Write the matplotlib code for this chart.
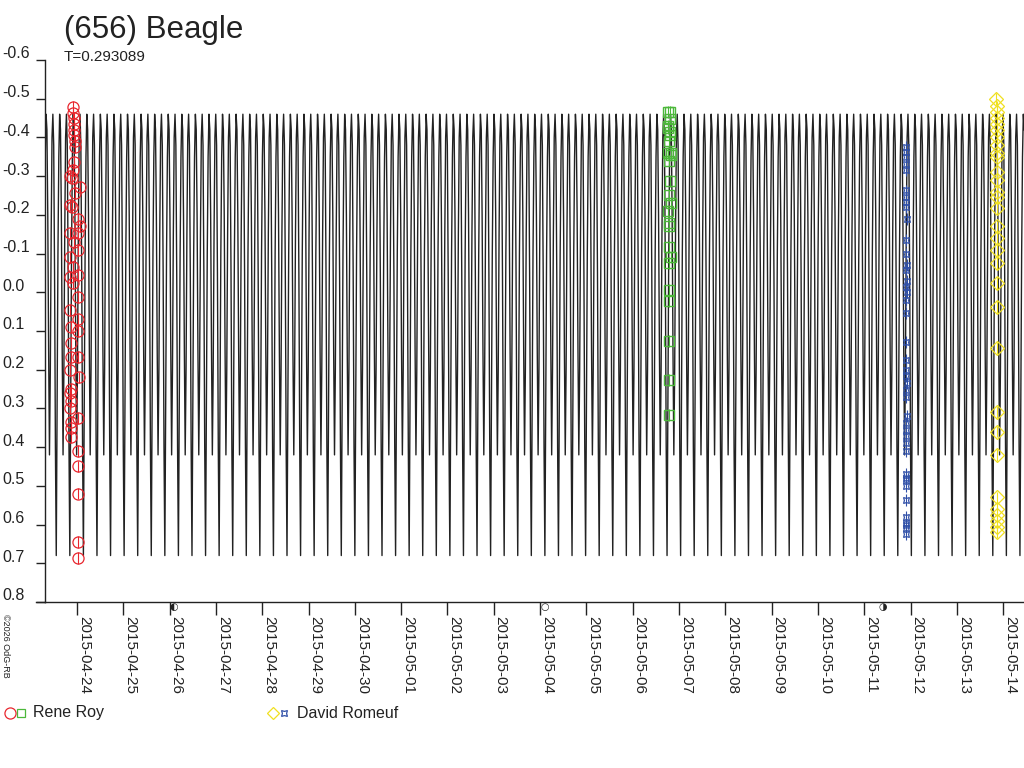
import numpy as np
import matplotlib
matplotlib.use('Agg')
from matplotlib import pyplot as plt
from matplotlib.lines import Line2D
from matplotlib.transforms import blended_transform_factory

plt.rcParams['font.family'] = ['Liberation Sans', 'DejaVu Sans']

# x values are days counted from 2015-04-24 00:00
day_labels = ['2015-04-24', '2015-04-25', '2015-04-26', '2015-04-27', '2015-04-28',
              '2015-04-29', '2015-04-30', '2015-05-01', '2015-05-02', '2015-05-03',
              '2015-05-04', '2015-05-05', '2015-05-06', '2015-05-07', '2015-05-08',
              '2015-05-09', '2015-05-10', '2015-05-11', '2015-05-12', '2015-05-13',
              '2015-05-14']
y_ticks = [-0.6, -0.5, -0.4, -0.3, -0.2, -0.1, 0.0, 0.1, 0.2, 0.3, 0.4, 0.5, 0.6, 0.7, 0.8]

period = 0.293089
# one rotation of the model lightcurve (equally spaced in phase)
model_mag = [0.68, 0.30, -0.10, -0.35, -0.46, -0.42, -0.20, 0.15,
             0.42, 0.20, -0.15, -0.40, -0.46, -0.38, -0.05, 0.40]
model_start = -0.74
n_rot = 74

# Rene Roy, 2015-04-24
roy1_t = [-0.086, -0.086, -0.065, -0.065, -0.060, -0.055, -0.050, -0.045, -0.065,
          -0.086, -0.108, -0.151, 0.065, -0.043, -0.151, -0.108, 0.022, 0.065,
          -0.151, 0.022, -0.065, 0.022, -0.151, -0.086, 0.022, -0.151, -0.086,
          0.022, -0.151, 0.022, -0.130, 0.022, -0.130, 0.022, -0.130, 0.043,
          -0.151, -0.130, -0.140, -0.130, -0.151, 0.022, -0.130, -0.130, -0.130,
          0.022, 0.022, 0.022, 0.022, 0.022]
roy1_m = [-0.479, -0.463, -0.450, -0.435, -0.420, -0.405, -0.390, -0.375, -0.337,
          -0.316, -0.295, -0.300, -0.273, -0.256, -0.225, -0.220, -0.190, -0.170,
          -0.153, -0.153, -0.130, -0.110, -0.090, -0.065, -0.044, -0.040, -0.024,
          0.012, 0.046, 0.070, 0.090, 0.100, 0.130, 0.167, 0.167, 0.220,
          0.200, 0.250, 0.260, 0.280, 0.300, 0.325, 0.335, 0.350, 0.374,
          0.410, 0.450, 0.520, 0.645, 0.686]

# Rene Roy, 2015-05-07
roy2_t = [12.76, 12.81, 12.81, 12.77, 12.77, 12.81, 12.81, 12.78, 12.77, 12.82,
          12.83, 12.78, 12.81, 12.79, 12.83, 12.77, 12.78, 12.79, 12.78, 12.83,
          12.78, 12.78, 12.78, 12.79, 12.79, 12.79]
roy2_m = [-0.466, -0.466, -0.447, -0.430, -0.425, -0.414, -0.405, -0.390, -0.360, -0.360,
          -0.355, -0.340, -0.287, -0.250, -0.230, -0.210, -0.180, -0.170, -0.117, -0.090,
          -0.075, -0.006, 0.023, 0.126, 0.227, 0.317]

# David Romeuf, 2015-05-12
rom1_t = [17.91, 17.91, 17.91, 17.91, 17.91, 17.91, 17.91, 17.91, 17.91, 17.92,
          17.91, 17.90, 17.92, 17.91, 17.92, 17.91, 17.92, 17.91, 17.90, 17.91,
          17.90, 17.91, 17.91, 17.92, 17.91, 17.90, 17.92, 17.91, 17.91, 17.90,
          17.91, 17.91, 17.90, 17.90, 17.91, 17.90, 17.91, 17.91, 17.90, 17.91,
          17.90, 17.90]
rom1_m = [-0.375, -0.362, -0.349, -0.332, -0.315, -0.263, -0.246, -0.233, -0.220, -0.190,
          -0.135, -0.100, -0.070, -0.057, -0.030, -0.014, 0.000, 0.020, 0.054, 0.128,
          0.175, 0.200, 0.217, 0.235, 0.252, 0.270, 0.320, 0.338, 0.355, 0.372,
          0.390, 0.410, 0.470, 0.485, 0.500, 0.536, 0.580, 0.595, 0.610, 0.625,
          0.480, 0.600]

# David Romeuf, 2015-05-14
rom2_t = [19.85, 19.86, 19.86, 19.87, 19.86, 19.87, 19.86, 19.87, 19.86, 19.86,
          19.87, 19.86, 19.87, 19.86, 19.87, 19.86, 19.87, 19.87, 19.86, 19.87,
          19.87, 19.86, 19.87, 19.86, 19.87, 19.86, 19.87, 19.86, 19.87, 19.86,
          19.87]
rom2_m = [-0.500, -0.480, -0.465, -0.450, -0.435, -0.420, -0.400, -0.380, -0.360, -0.350,
          -0.310, -0.290, -0.260, -0.246, -0.217, -0.170, -0.140, -0.110, -0.075, -0.024,
          0.038, 0.144, 0.310, 0.360, 0.420, 0.530, 0.560, 0.575, 0.590, 0.605,
          0.620]

fig = plt.figure(figsize=(10.24, 7.68), dpi=100)
ax = fig.add_axes([45 / 1024, 1 - 602 / 768, 1 - 45 / 1024, (602 - 60) / 768])

# model curve, one rotation after another
phase = np.arange(len(model_mag)) / len(model_mag)
curve_t = (model_start + (np.arange(n_rot)[:, None] + phase[None, :]) * period).ravel()
curve_m = np.tile(model_mag, n_rot)
ax.plot(curve_t, curve_m, color='#222222', lw=1.0, zorder=1)

err = 0.015
ax.errorbar(roy1_t, roy1_m, yerr=err, fmt='o', ms=8, mfc='none', mec='#e8262e',
            ecolor='#e8262e', elinewidth=0.8, mew=0.9, zorder=3)
ax.errorbar(roy2_t, roy2_m, yerr=err, fmt='s', ms=7, mfc='none', mec='#4cb83a',
            ecolor='#4cb83a', elinewidth=0.8, mew=1.0, zorder=3)
ax.errorbar(rom1_t, rom1_m, yerr=err, fmt='none', ecolor='#3050a8', elinewidth=0.8, zorder=3)
ax.plot(rom1_t, rom1_m, ls='none', marker=(4, 1, 45), ms=6, mfc='none', mec='#3050a8',
        mew=0.9, zorder=3)
ax.errorbar(rom2_t, rom2_m, yerr=err, fmt='D', ms=7, mfc='none', mec='#f0e020',
            ecolor='#f0e020', elinewidth=0.8, mew=0.9, zorder=3)

ax.set_xlim(-0.69, 20.45)
ax.set_ylim(0.8, -0.6)

for side in ['top', 'right']:
    ax.spines[side].set_visible(False)
for side in ['left', 'bottom']:
    ax.spines[side].set_color('#222222')
    ax.spines[side].set_linewidth(1.0)

ax.set_xticks(range(len(day_labels)))
ax.set_xticklabels(day_labels, rotation=270, ha='left', va='top', fontsize=11, color='#222222')
ax.tick_params(axis='x', length=9, width=1.0, pad=1, color='#222222')

ax.set_yticks(y_ticks)
ax.set_yticklabels([])
ax.tick_params(axis='y', length=6.5, width=1.0, color='#222222')
trans = blended_transform_factory(fig.transFigure, ax.transData)
for v in y_ticks:
    ax.text(2 / 1024, v - 0.004, '%.1f' % v, transform=trans, ha='left', va='baseline',
            fontsize=11.5, color='#222222', clip_on=False)

# x axis line reaches a little left of the y axis
fig.add_artist(Line2D([36 / 1024, 45 / 1024], [1 - 602 / 768, 1 - 602 / 768],
                      color='#222222', lw=1.0, transform=fig.transFigure))

fig.text(64 / 1024, 1 - 30 / 768, '(656) Beagle', fontsize=22.5, color='#222222',
         ha='left', va='center')
fig.text(64 / 1024, 1 - 57 / 768, 'T=0.293089', fontsize=11, color='#222222',
         ha='left', va='center')

# moon phase marks
for x, s in [(2.1, '◐'), (10.1, '○'), (17.4, '◑')]:
    ax.text(x, 0.812, s, fontsize=7, color='#222222', ha='center', va='center',
            family='DejaVu Sans', clip_on=False)

fig.text(5 / 1024, 1 - 614 / 768, '©2026 OdG-RB', fontsize=6.5, rotation=270,
         ha='center', va='top', color='#222222')

# legend
ly = 1 - 713 / 768
fig.add_artist(Line2D([10 / 1024], [ly], marker='o', ms=8, mfc='none', mec='#e8262e',
                      mew=0.9, transform=fig.transFigure))
fig.add_artist(Line2D([21 / 1024], [ly], marker='s', ms=6, mfc='none', mec='#4cb83a',
                      mew=0.9, transform=fig.transFigure))
fig.text(33 / 1024, ly, 'Rene Roy', fontsize=11.5, color='#222222', ha='left', va='center')
fig.add_artist(Line2D([273 / 1024], [ly], marker='D', ms=6, mfc='none', mec='#f0e020',
                      mew=0.9, transform=fig.transFigure))
fig.add_artist(Line2D([284 / 1024], [ly], marker=(4, 1, 45), ms=6, mfc='none', mec='#3050a8',
                      mew=0.9, transform=fig.transFigure))
fig.text(297 / 1024, ly, 'David Romeuf', fontsize=11.5, color='#222222', ha='left', va='center')

fig.savefig('out.png', dpi=100)
